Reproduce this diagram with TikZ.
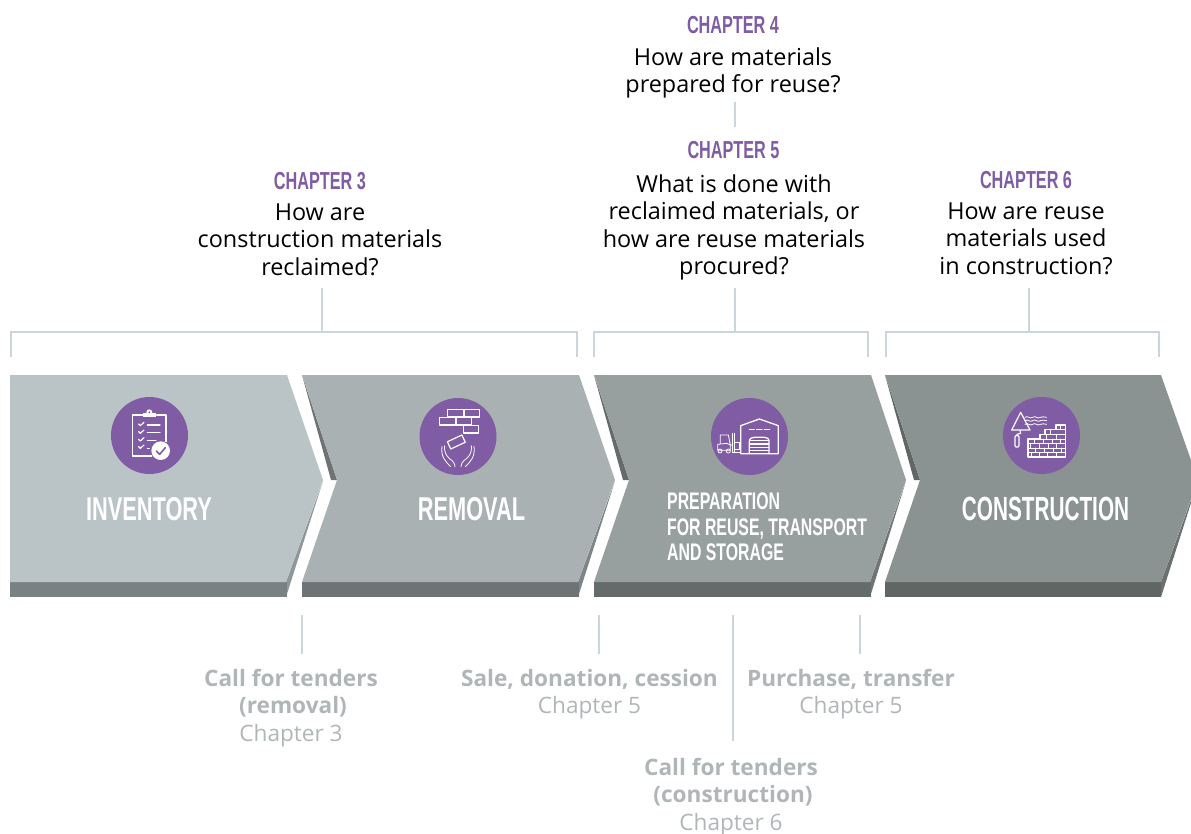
\documentclass[tikz,border=0pt]{standalone}
\usepackage{fontspec}
\setmainfont{Open Sans}
\newfontfamily\headfont[FakeStretch=0.66]{Liberation Sans}
\newfontfamily\headfontb[FakeStretch=0.62]{Liberation Sans}
\definecolor{purp}{HTML}{7F5CA3}
\definecolor{lineg}{HTML}{CBD6DA}
\definecolor{labg}{HTML}{B0B6B8}
\definecolor{pa}{HTML}{BAC3C5}\definecolor{pab}{HTML}{7A8182}\definecolor{pas}{HTML}{8F9798}
\definecolor{pb}{HTML}{A9B1B2}\definecolor{pbb}{HTML}{6E7474}\definecolor{pbs}{HTML}{7E8586}
\definecolor{pc}{HTML}{989F9F}\definecolor{pcb}{HTML}{656B6A}\definecolor{pcs}{HTML}{6F7574}
\definecolor{pd}{HTML}{8B9292}\definecolor{pdb}{HTML}{5F6663}\definecolor{pds}{HTML}{6A716F}
\newcommand{\fsz}[2]{\fontsize{#1}{#2}\selectfont}
\tikzset{
 chap/.style={font=\headfont\bfseries\fsz{24.6}{24.6},text=purp,inner sep=0pt,anchor=center},
 body/.style={font=\fsz{23.4}{27.5},align=center,inner sep=0pt,text=black,anchor=center},
 lab/.style={font=\fsz{22.6}{27.5},align=center,inner sep=0pt,text=labg,anchor=center},
 title/.style={font=\headfont\bfseries\fsz{33}{33},text=white,inner sep=0pt,anchor=center},
 titleb/.style={font=\headfontb\bfseries\fsz{33.5}{33.5},text=white,inner sep=0pt,anchor=center},
 subtitle/.style={font=\headfont\bfseries\fsz{24}{24},text=white,inner sep=0pt,anchor=base west},
 guide/.style={draw=lineg,line width=2pt},
 disc/.style={circle,fill=purp,minimum size=77pt,inner sep=0pt},
 ico/.style={draw=white,line width=1.2pt,line join=round,line cap=round},
 icob/.style={draw=white,line width=0.8pt,line join=round,line cap=round},
}
\begin{document}
\begin{tikzpicture}[x=1pt,y=-1pt]
\useasboundingbox (0,0) rectangle (1191,834);
\begin{scope}
\clip (0,0) rectangle (1191,834);
% panel 1
\fill[pas] (323,481) -- (286,582) -- (286,597) -- cycle;
\fill[pab] (10,582) rectangle (287,597);
\fill[pa] (10,375) -- (287,375) -- (323,480) -- (286,582) -- (10,582) -- cycle;
% panel 2
\fill[pbs] (615,481) -- (578,582) -- (578,597) -- cycle;
\fill[pbb] (302,582) rectangle (579,597);
\fill[pbb] (302,375) -- (337,480) -- (331,480) -- cycle;
\fill[pb] (302,375) -- (579,375) -- (615,480) -- (578,582) -- (302,582) -- (337,480) -- cycle;
% panel 3
\fill[pcs] (906,481) -- (870,582) -- (870,597) -- cycle;
\fill[pcb] (594,582) rectangle (871,597);
\fill[pcb] (594,375) -- (629,480) -- (623,480) -- cycle;
\fill[pc] (594,375) -- (871,375) -- (906,480) -- (870,582) -- (594,582) -- (629,480) -- cycle;
% panel 4
\fill[pds] (1198,481) -- (1161,582) -- (1161,597) -- cycle;
\fill[pdb] (885,582) rectangle (1161,597);
\fill[pdb] (885,375) -- (920,480) -- (914,480) -- cycle;
\fill[pd] (885,375) -- (1161,375) -- (1198,480) -- (1161,582) -- (885,582) -- (920,480) -- cycle;
\end{scope}
% titles
\node[title] (tinv) at (149,509) {INVENTORY};
\node[title] (trem) at (471.5,509) {REMOVAL};
\node[titleb] (tcon) at (1045.5,509) {CONSTRUCTION};
\node[subtitle] (tpa) at (667,509.5) {PREPARATION};
\node[subtitle] (tpb) at (667,535.5) {FOR REUSE, TRANSPORT};
\node[subtitle] (tpc) at (667,560.5) {AND STORAGE};
% discs
\node[disc] (d1) at (149.5,435.5) {};
\node[disc] (d2) at (458,436.5) {};
\node[disc] (d3) at (749.5,436.5) {};
\node[disc] (d4) at (1041.5,435.5) {};
% icon 1
\begin{scope}[shift={(90,380)},scale=1/3]
\draw[ico,line width=1.5pt] (158,105) -- (128,105) -- (128,228) -- (185,228);
\draw[ico,line width=1.5pt] (200,105) -- (228,105) -- (228,185);
\fill[white] (160,100) rectangle (197,112);
\fill[white] (178,97) circle (9);
\fill[purp] (178,97) circle (3);
\foreach \yy in {132,155,178,200}{
 \draw[ico] (146,\yy) -- (151,\yy+5) -- (162,\yy-5);}
\draw[ico] (172,135) -- (210,135);
\draw[ico] (172,158) -- (210,158);
\draw[ico] (172,182) -- (198,182);
\draw[ico] (172,205) -- (178,205);
\fill[white] (212,212) circle (28);
\draw[draw=purp,line width=1.6pt,line cap=round,line join=round] (199,213) -- (209,223) -- (226,203);
\end{scope}
% icon 2
\begin{scope}[shift={(400,385)},scale=1/3]
\draw[ico] (142,74) rectangle (190,96);
\draw[ico] (192,74) rectangle (238,96);
\draw[ico] (118,97) rectangle (166,120);
\draw[ico] (168,97) rectangle (215,120);
\draw[ico] (190,122) rectangle (236,144);
\draw[ico,rotate around={25:(169,171)}] (145,159) rectangle (193,183);
\draw[icob] (126,184) .. controls (122,215) and (135,228) .. (152,245);
\draw[icob] (134,182) .. controls (132,205) and (140,212) .. (150,222) .. controls (160,228) and (165,238) .. (165,245);
\draw[icob] (222,184) .. controls (226,215) and (213,228) .. (196,245);
\draw[icob] (214,182) .. controls (216,205) and (208,212) .. (198,222) .. controls (188,228) and (183,238) .. (183,245);
\end{scope}
% icon 3
\begin{scope}[shift={(695,385)},scale=1/3]
\draw[ico,line width=1.3pt] (137,206) -- (137,122) -- (193,102) -- (250,122) -- (250,206) -- cycle;
\draw[ico] (163,133) -- (178,133) (185,133) -- (201,133) (208,133) -- (224,133);
\draw[ico,line width=1.3pt] (163,206) -- (163,170) .. controls (163,160) and (170,157) .. (178,157) -- (208,157) .. controls (216,157) and (222,160) .. (222,170) -- (222,206);
\foreach \yy in {167,177,187,197}{\draw[ico,line width=1.3pt] (164,\yy) -- (221,\yy);}
\draw[icob] (113,145) -- (113,203) (119,145) -- (119,203);
\draw[icob] (113,203) -- (135,203);
\draw[icob] (119,172) rectangle (132,192);
\draw[icob] (76,176) -- (76,150) -- (100,150) -- (106,180) -- (113,180);
\draw[icob] (68,196) -- (68,178) -- (95,175) -- (106,180) -- (106,196) -- (68,196);
\draw[icob] (75,198) circle (6);
\draw[icob] (100,198) circle (6);
\end{scope}
% icon 4
\begin{scope}[shift={(990,385)},scale=1/3]
\draw[ico] (65,135) -- (92,82) -- (120,135) -- cycle;
\draw[ico] (90,135) -- (92,145) -- (81,148) -- (81,152);
\draw[ico] (75,156) .. controls (75,150) and (87,150) .. (87,156) -- (87,182) .. controls (87,188) and (75,188) .. (75,182) -- cycle;
\foreach \yy in {97,107,118}{
 \draw[icob] (105,\yy) .. controls (113,\yy-7) and (120,\yy+7) .. (128,\yy) .. controls (136,\yy-7) and (143,\yy+7) .. (151,\yy) .. controls (157,\yy-5) and (163,\yy+1) .. (170,\yy);}
\draw[ico] (114,216) -- (114,162) -- (150,162) -- (150,148) -- (165,148) -- (165,134) -- (198,134) -- (198,120) -- (226,120) -- (226,216) -- cycle;
\draw[icob] (198,134) -- (226,134) (165,148) -- (226,148) (150,162) -- (226,162) (114,175) -- (226,175) (114,189) -- (226,189) (114,203) -- (226,203);
\foreach \xa/\ya/\yb in {212/120/134, 180/134/148, 198/148/162, 168/148/162, 134/162/175, 160/162/175, 188/162/175, 212/162/175,
 122/175/189, 148/175/189, 175/175/189, 200/175/189, 136/189/203, 162/189/203, 190/189/203, 214/189/203, 124/203/216, 148/203/216, 172/203/216, 198/203/216}{
 \draw[icob] (\xa,\ya) -- (\xa,\yb);}
\end{scope}
% upper texts
\node[chap] (c3) at (320,181) {CHAPTER 3};
\node[body] (b3) at (320,239.5) {How are\\construction materials\\reclaimed?};
\node[chap] (c4) at (733,25.5) {CHAPTER 4};
\node[body] (b4) at (733,73) {How are materials\\prepared for reuse?};
\node[chap] (c5) at (733.5,150) {CHAPTER 5};
\node[body] (b5) at (734,227.5) {What is done with\\reclaimed materials, or\\how are reuse materials\\procured?};
\node[chap] (c6) at (1026,180) {CHAPTER 6};
\node[body] (b6) at (1026,238.5) {How are reuse\\materials used\\in construction?};
% guide coordinates
\coordinate (s45a) at (735,102); \coordinate (s45b) at (735,127);
\coordinate (s3a) at (322,288); \coordinate (s3b) at (322,332);
\coordinate (s5a) at (735,288); \coordinate (s5b) at (735,332);
\coordinate (s6a) at (1029,288); \coordinate (s6b) at (1029,332);
\coordinate (ba1) at (11,357); \coordinate (ba2) at (11,332); \coordinate (ba3) at (577,332); \coordinate (ba4) at (577,357);
\coordinate (bb1) at (593.5,357); \coordinate (bb2) at (593.5,332); \coordinate (bb3) at (868,332); \coordinate (bb4) at (868,357);
\coordinate (bc1) at (885.5,357); \coordinate (bc2) at (885.5,332); \coordinate (bc3) at (1159,332); \coordinate (bc4) at (1159,357);
\draw[guide] (s45a) -- (s45b);
\draw[guide] (s3a) -- (s3b);
\draw[guide] (s5a) -- (s5b);
\draw[guide] (s6a) -- (s6b);
\draw[guide] (ba1) -- (ba2) -- (ba3) -- (ba4);
\draw[guide] (bb1) -- (bb2) -- (bb3) -- (bb4);
\draw[guide] (bc1) -- (bc2) -- (bc3) -- (bc4);
% lower ticks
\coordinate (t1a) at (302,615); \coordinate (t1b) at (302,654);
\coordinate (t2a) at (598.5,615); \coordinate (t2b) at (598.5,654);
\coordinate (t3a) at (859.5,615); \coordinate (t3b) at (859.5,654);
\coordinate (t4a) at (732.5,615); \coordinate (t4b) at (732.5,741);
\draw[guide] (t1a) -- (t1b);
\draw[guide] (t2a) -- (t2b);
\draw[guide] (t3a) -- (t3b);
\draw[guide] (t4a) -- (t4b);
% lower labels
\node[lab] (l1) at (291,708) {\textbf{Call for tenders}\\\hspace*{4pt}\textbf{(removal)}\\Chapter 3};
\node[lab] (l2) at (589.5,694) {\textbf{Sale, donation, cession}\\Chapter 5};
\node[lab] (l3) at (851,694) {\textbf{Purchase, transfer}\\Chapter 5};
\node[lab] (l4) at (731,797) {\textbf{Call for tenders}\\\hspace*{4pt}\textbf{(construction)}\\Chapter 6};
\end{tikzpicture}
\end{document}
